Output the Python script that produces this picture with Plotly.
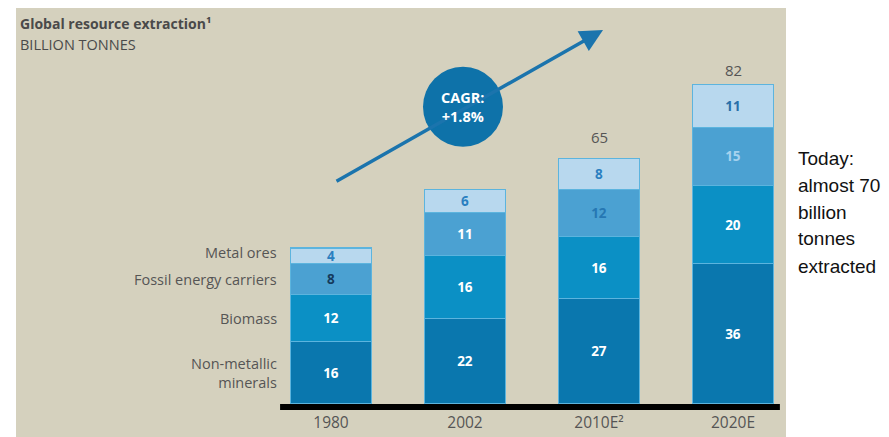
import plotly.graph_objects as go

years = ["1980", "2002", "2010E²", "2020E"]
series_names = ["Non-metallic<br>minerals", "Biomass", "Fossil energy carriers", "Metal ores"]
non_metallic = [16, 22, 27, 36]
biomass = [12, 16, 16, 20]
fossil = [8, 11, 12, 15]
metal = [4, 6, 8, 11]
totals = [40, 55, 65, 82]
cagr_text = "CAGR:<br>+1.8%"
side_note_lines = ["Today:", "almost 70", "billion", "tonnes", "extracted"]

W, H = 889, 437
B = 26
PLOT_H = H - B
FONT = "'Open Sans', Lato, sans-serif"
BG = "#d5d1be"
colors = ["#0a77ae", "#0b90c5", "#4ba1d2", "#b8d8ee"]
txt_colors = [
    ["white"] * 4,
    ["white"] * 4,
    ["#153a5c", "white", "#2677b3", "#a6d2ee"],
    ["#2a7fc0", "#2a7fc0", "#2a7fc0", "#2a6fa8"],
]
series = [non_metallic, biomass, fossil, metal]


def py(p):
    """pixel row from top of figure -> paper y"""
    return 1 - p / PLOT_H


fig = go.Figure()
for name, vals, col, tc in zip(series_names, series, colors, txt_colors):
    fig.add_trace(go.Bar(
        x=years, y=vals, name=name,
        marker=dict(color=col, line=dict(color="#5cb4de", width=1.1)),
        width=0.61,
        text=[str(v) for v in vals], textposition="inside", insidetextanchor="middle",
        textangle=0,
        textfont=dict(family=FONT, size=13.5, color=tc, weight="bold"),
        constraintext="none",
        hoverinfo="skip",
    ))

px_per_unit = 3.9
y_low = -7 / px_per_unit
y_high = (PLOT_H - 7) / px_per_unit

annotations = []
for yr, t in zip(years, totals):
    annotations.append(dict(x=yr, y=t, xref="x", yref="y", text=str(t), showarrow=False,
                            yanchor="bottom", yshift=2,
                            font=dict(family=FONT, size=15, color="#555555")))

cum = 0
label_shift = [0, 0, 0, 3]
for name, vals, sh in zip(series_names, series, label_shift):
    center = cum + vals[0] / 2
    cum += vals[0]
    annotations.append(dict(x=-0.385, y=center, xref="x", yref="y", text=name, showarrow=False,
                            xanchor="right", align="right", yshift=sh,
                            font=dict(family=FONT, size=14.5, color="#555555")))

annotations.append(dict(x=2.03, y=95.9, ax=0.03, ay=56.9, xref="x", yref="y", axref="x", ayref="y",
                        text="", showarrow=True, arrowhead=2, arrowsize=1.3, arrowwidth=3.5,
                        arrowcolor="#1b74ad", standoff=0))
annotations.append(dict(x=0.985, y=76.2, xref="x", yref="y", text=f"<b>{cagr_text}</b>", showarrow=False,
                        font=dict(family=FONT, size=14.5, color="white")))
annotations.append(dict(x=18 / W, y=py(23), xref="paper", yref="paper", xanchor="left", yanchor="middle",
                        text="<b>Global resource extraction¹</b>", showarrow=False,
                        font=dict(family=FONT, size=14, color="#4a4a4a")))
annotations.append(dict(x=18 / W, y=py(45), xref="paper", yref="paper", xanchor="left", yanchor="middle",
                        text="BILLION TONNES", showarrow=False,
                        font=dict(family=FONT, size=14.5, color="#4a4a4a")))
for i, line in enumerate(side_note_lines):
    annotations.append(dict(x=796 / W, y=py(158 + 27 * i), xref="paper", yref="paper",
                            xanchor="left", yanchor="middle", text=line, showarrow=False,
                            font=dict(family="'Liberation Sans', Arial, sans-serif", size=19, color="#111111")))

shapes = [
    dict(type="rect", xref="paper", yref="paper", x0=16 / W, x1=786 / W, y0=py(H), y1=py(8),
         fillcolor=BG, line=dict(width=0), layer="below"),
    dict(type="circle", xref="x", yref="y", x0=0.985 - 0.2985, x1=0.985 + 0.2985,
         y0=76.2 - 10.26, y1=76.2 + 10.26, fillcolor="#0e72a9", line=dict(width=0), layer="above"),
    dict(type="line", xref="x", yref="y", x0=-0.38, x1=3.35, y0=-0.77, y1=-0.77,
         line=dict(color="black", width=6), layer="above"),
]

fig.update_layout(
    width=W, height=H, barmode="stack", showlegend=False,
    margin=dict(l=0, r=0, t=0, b=B),
    paper_bgcolor="white", plot_bgcolor="rgba(0,0,0,0)",
    xaxis=dict(type="category", range=[-331 / 134, (W - 331) / 134], showgrid=False, zeroline=False,
               showline=False, ticks="", tickfont=dict(family=FONT, size=15.5, color="#555555")),
    yaxis=dict(range=[y_low, y_high], visible=False),
    annotations=annotations, shapes=shapes,
    uniformtext=dict(mode=False),
)
fig.write_html("out.html", config={"displayModeBar": False},
               post_script="document.body.style.margin='0';")
